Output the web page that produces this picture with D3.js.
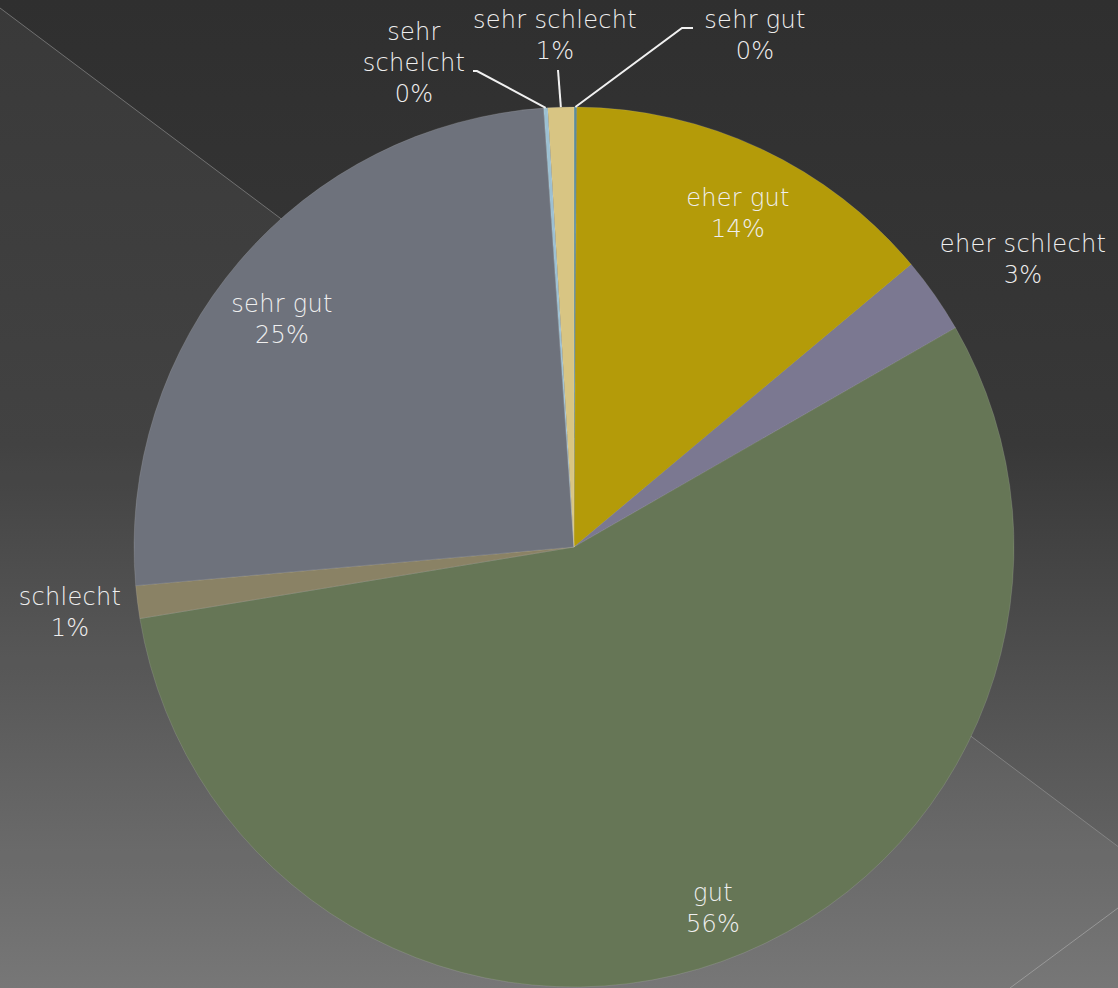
<!DOCTYPE html>
<html lang="de">
    <head>
        <meta charset="utf-8">
        <title>Pie</title>
        <script src="https://d3js.org/d3.v7.min.js"></script>
        <style type="text/css">
            body { margin: 0; background: #333; }
            .lbl {
                font-family: "DejaVu Sans", sans-serif;
                font-weight: 200;
                font-size: 24px;
                letter-spacing: 0.3px;
                fill: #efefef;
                text-anchor: middle;
            }
            .leader { stroke: #f0f0f0; stroke-width: 2px; fill: none; }
        </style>
    </head>
    <body>
        <script type="text/javascript">

            //data (clockwise from 12 o'clock)
            const categories = ["sehr gut", "eher gut", "eher schlecht", "gut", "schlecht", "sehr gut", "sehr schelcht", "sehr schlecht"];
            const values = [0.1, 13.8, 2.8, 55.7, 1.2, 25.3, 0.15, 0.95];
            const colors = ["#5e8c97", "#b49b09", "#7b7891", "#667656", "#8a8265", "#6e727c", "#9cc0d2", "#d8c583"];

            const w = 1118;
            const h = 988;
            const cx = 574, cy = 547, r = 440;

            //label placement: [x, y] of first line centre (page coords)
            const labelPos = [[755, 28], [738, 206], [1023, 252], [713, 901], [70, 605], [282, 312], [414, 40], [555, 28]];
            //leader lines for the small top slices
            const leaders = {
                0: [[693, 28], [682, 28]],
                6: [[473, 71], [477, 71]],
                7: [[558, 70]]
            };

            const data = categories.map((c, i) => ({name: c, value: values[i], color: colors[i], i: i}));

            const svg = d3.select("body")
                .append("svg")
                .attr("width", w)
                .attr("height", h);

            //background
            const defs = svg.append("defs");
            const grad = defs.append("linearGradient")
                .attr("id", "bg")
                .attr("x1", 0).attr("y1", 0).attr("x2", 0).attr("y2", 1);
            grad.append("stop").attr("offset", "0%").attr("stop-color", "#2f2f2f");
            grad.append("stop").attr("offset", "45%").attr("stop-color", "#383838");
            grad.append("stop").attr("offset", "100%").attr("stop-color", "#707070");

            svg.append("rect")
                .attr("width", w).attr("height", h)
                .attr("fill", "url(#bg)");

            const lineY = x => 8 + 0.75 * x;
            svg.append("path")
                .attr("d", "M0," + lineY(0) + "L" + w + "," + lineY(w) + "L" + w + "," + h + "L0," + h + "Z")
                .attr("fill", "#ffffff")
                .attr("fill-opacity", 0.05);
            svg.append("line")
                .attr("x1", 0).attr("y1", lineY(0))
                .attr("x2", w).attr("y2", lineY(w))
                .attr("stroke", "#9a9a9a").attr("stroke-opacity", 0.6);
            svg.append("line")
                .attr("x1", 1118).attr("y1", 908)
                .attr("x2", 1010).attr("y2", 988)
                .attr("stroke", "#a8a8a8").attr("stroke-opacity", 0.7);

            //pie
            const pie = d3.pie()
                .sort(null)
                .value(d => d.value);

            const arc = d3.arc()
                .innerRadius(0)
                .outerRadius(r);

            const arcs = pie(data);

            const g = svg.append("g")
                .attr("transform", "translate(" + cx + "," + cy + ")");

            g.selectAll("path.slice")
                .data(arcs)
                .enter()
                .append("path")
                .attr("class", "slice")
                .attr("d", arc)
                .attr("fill", d => d.data.color)
                .attr("stroke", "#ffffff")
                .attr("stroke-opacity", 0.12)
                .attr("stroke-width", 1);

            //leader lines: from label end to slice outer edge midpoint
            const edge = d3.arc().innerRadius(r).outerRadius(r);
            arcs.forEach(a => {
                const pts = leaders[a.data.i];
                if (!pts) return;
                const c = edge.centroid(a);
                const all = pts.concat([[c[0] + cx, c[1] + cy]]);
                svg.append("path")
                    .attr("class", "leader")
                    .attr("d", d3.line()(all));
            });

            //labels
            const lab = svg.append("g");
            arcs.forEach(a => {
                const p = labelPos[a.data.i];
                const pct = Math.round(a.data.value) + "%";
                let lines = [a.data.name, pct];
                if (a.data.name === "sehr schelcht") lines = ["sehr", "schelcht", pct];
                const t = lab.append("text")
                    .attr("class", "lbl")
                    .attr("x", p[0])
                    .attr("y", p[1]);
                lines.forEach((s, k) => {
                    t.append("tspan")
                        .attr("x", p[0])
                        .attr("dy", k === 0 ? 0 : 31)
                        .text(s);
                });
            });

        </script>
    </body>
</html>
